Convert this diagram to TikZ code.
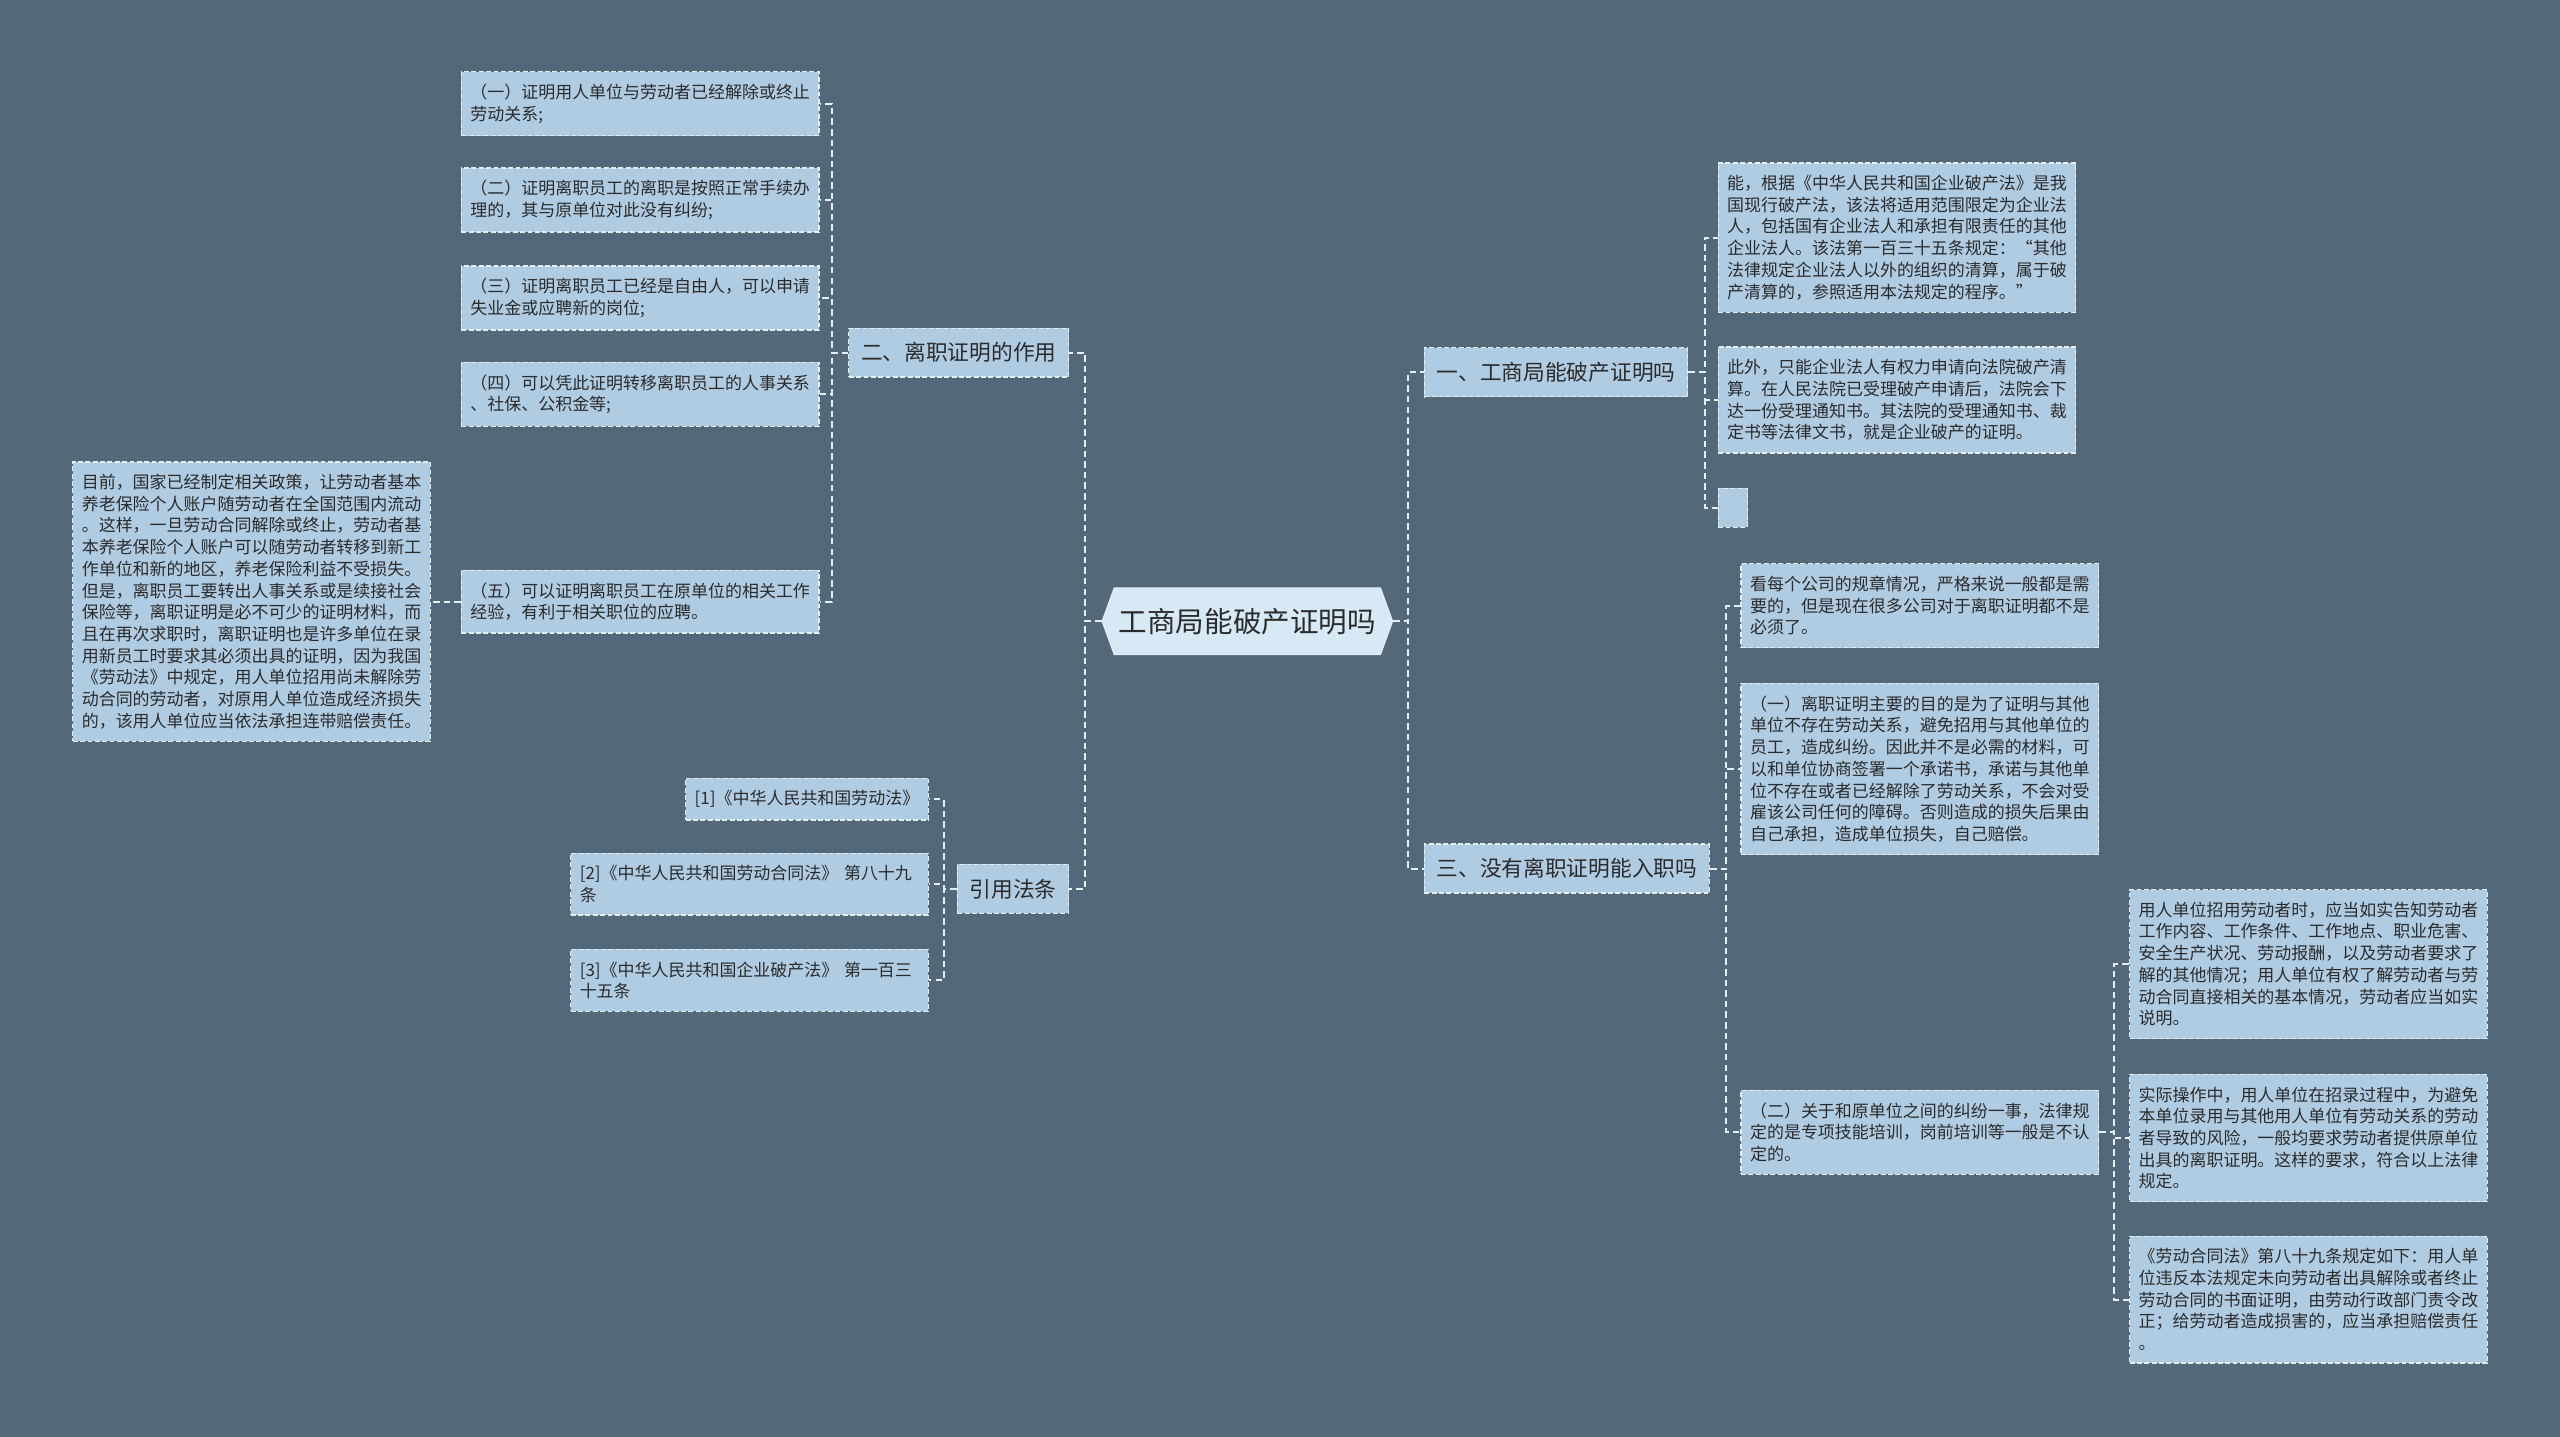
\documentclass[tikz,border=0pt]{standalone}
\usepackage{fontspec}
\newfontfamily\cjk{Noto Sans CJK SC}
\usetikzlibrary{shapes.symbols}
\definecolor{bgcol}{HTML}{536878}
\definecolor{boxfill}{HTML}{B0CCE2}
\definecolor{rootfill}{HTML}{D6E9F4}
\definecolor{inkcol}{HTML}{2B2B2B}
\definecolor{linecol}{HTML}{E4EEF6}

\begin{document}
\begin{tikzpicture}[
    x=1pt, y=-1pt,
    box/.style={rectangle, draw=linecol, fill=boxfill, dash pattern=on 3pt off 1.5pt, line width=0.8pt, text=inkcol},
    rootbox/.style={signal, signal to=west and east, signal pointer angle=140, fill=rootfill, draw=linecol, line width=0.6pt, minimum width=178pt, minimum height=41pt, inner sep=0pt, text=inkcol, font=\cjk\fontsize{17.5}{20}\selectfont},
    topic/.style={box, minimum height=30pt, inner xsep=7.5pt, inner ysep=3pt, font=\cjk\fontsize{13.3}{16}\selectfont},
    refleaf/.style={box, inner xsep=5.5pt, inner ysep=7.5pt, font=\cjk\fontsize{10.4}{13.3}\selectfont},
    leaf/.style={refleaf, text width=208pt, align=left},
    link/.style={draw=linecol, line width=1.2pt, dash pattern=on 4pt off 2.5pt}
]
\fill[bgcol] (0,0) rectangle (1568,880);
\useasboundingbox (0,0) rectangle (1568,880);

% Root
\node[rootbox] (root) at (764,380.5) {工商局能破产证明吗};

% Topic 1: right top
\node[topic, anchor=west] (one) at (872,228) {一、工商局能破产证明吗};
\node[leaf, anchor=west] (a1) at (1052,145.5) {能，根据《中华人民共和国企业破产法》是我\\国现行破产法，该法将适用范围限定为企业法\\人，包括国有企业法人和承担有限责任的其他\\企业法人。该法第一百三十五条规定：“其他\\法律规定企业法人以外的组织的清算，属于破\\产清算的，参照适用本法规定的程序。”};
\node[leaf, anchor=west] (a2) at (1052,245) {此外，只能企业法人有权力申请向法院破产清\\算。在人民法院已受理破产申请后，法院会下\\达一份受理通知书。其法院的受理通知书、裁\\定书等法律文书，就是企业破产的证明。};
\node[box, anchor=west, minimum width=18pt, minimum height=24pt, inner sep=0pt] (a3) at (1052,311) {};
\draw[link] (root.east) -- ++(9,0) |- (one.west);
\draw[link] (one.east) -- ++(10,0) |- (a1.west);
\draw[link] (one.east) -- ++(10,0) |- (a2.west);
\draw[link] (one.east) -- ++(10,0) |- (a3.west);

% Topic 3: right bottom
\node[topic, anchor=west] (three) at (872,532) {三、没有离职证明能入职吗};
\node[leaf, anchor=west] (b1) at (1066,371) {看每个公司的规章情况，严格来说一般都是需\\要的，但是现在很多公司对于离职证明都不是\\必须了。};
\node[leaf, anchor=west] (b2) at (1066,471) {（一）离职证明主要的目的是为了证明与其他\\单位不存在劳动关系，避免招用与其他单位的\\员工，造成纠纷。因此并不是必需的材料，可\\以和单位协商签署一个承诺书，承诺与其他单\\位不存在或者已经解除了劳动关系，不会对受\\雇该公司任何的障碍。否则造成的损失后果由\\自己承担，造成单位损失，自己赔偿。};
\node[leaf, anchor=west] (b3) at (1066,693.5) {（二）关于和原单位之间的纠纷一事，法律规\\定的是专项技能培训，岗前培训等一般是不认\\定的。};
\node[leaf, anchor=west] (c1) at (1304,590.5) {用人单位招用劳动者时，应当如实告知劳动者\\工作内容、工作条件、工作地点、职业危害、\\安全生产状况、劳动报酬，以及劳动者要求了\\解的其他情况；用人单位有权了解劳动者与劳\\动合同直接相关的基本情况，劳动者应当如实\\说明。};
\node[leaf, anchor=west] (c2) at (1304,697) {实际操作中，用人单位在招录过程中，为避免\\本单位录用与其他用人单位有劳动关系的劳动\\者导致的风险，一般均要求劳动者提供原单位\\出具的离职证明。这样的要求，符合以上法律\\规定。};
\node[leaf, anchor=west] (c3) at (1304,796) {《劳动合同法》第八十九条规定如下：用人单\\位违反本法规定未向劳动者出具解除或者终止\\劳动合同的书面证明，由劳动行政部门责令改\\正；给劳动者造成损害的，应当承担赔偿责任\\。};
\draw[link] (root.east) -- ++(9,0) |- (three.west);
\draw[link] (three.east) -- ++(10,0) |- (b1.west);
\draw[link] (three.east) -- ++(10,0) |- (b2.west);
\draw[link] (three.east) -- ++(10,0) |- (b3.west);
\draw[link] (b3.east) -- ++(9,0) |- (c1.west);
\draw[link] (b3.east) -- ++(9,0) |- (c2.west);
\draw[link] (b3.east) -- ++(9,0) |- (c3.west);

% Topic 2: left top
\node[topic, anchor=east] (two) at (655,216) {二、离职证明的作用};
\node[leaf, anchor=east] (l1) at (502,63.5) {（一）证明用人单位与劳动者已经解除或终止\\劳动关系;};
\node[leaf, anchor=east] (l2) at (502,122.5) {（二）证明离职员工的离职是按照正常手续办\\理的，其与原单位对此没有纠纷;};
\node[leaf, anchor=east] (l3) at (502,182.5) {（三）证明离职员工已经是自由人，可以申请\\失业金或应聘新的岗位;};
\node[leaf, anchor=east] (l4) at (502,241.5) {（四）可以凭此证明转移离职员工的人事关系\\、社保、公积金等;};
\node[leaf, anchor=east] (l5) at (502,368.5) {（五）可以证明离职员工在原单位的相关工作\\经验，有利于相关职位的应聘。};
\node[leaf, anchor=east] (ll) at (264,368.5) {目前，国家已经制定相关政策，让劳动者基本\\养老保险个人账户随劳动者在全国范围内流动\\。这样，一旦劳动合同解除或终止，劳动者基\\本养老保险个人账户可以随劳动者转移到新工\\作单位和新的地区，养老保险利益不受损失。\\但是，离职员工要转出人事关系或是续接社会\\保险等，离职证明是必不可少的证明材料，而\\且在再次求职时，离职证明也是许多单位在录\\用新员工时要求其必须出具的证明，因为我国\\《劳动法》中规定，用人单位招用尚未解除劳\\动合同的劳动者，对原用人单位造成经济损失\\的，该用人单位应当依法承担连带赔偿责任。};
\draw[link] (root.west) -- ++(-10,0) |- (two.east);
\draw[link] (two.west) -- ++(-10,0) |- (l1.east);
\draw[link] (two.west) -- ++(-10,0) |- (l2.east);
\draw[link] (two.west) -- ++(-10,0) |- (l3.east);
\draw[link] (two.west) -- ++(-10,0) |- (l4.east);
\draw[link] (two.west) -- ++(-10,0) |- (l5.east);
\draw[link] (l5.west) -- (ll.east);

% Topic 4: left bottom
\node[topic, anchor=east] (laws) at (655,544.5) {引用法条};
\node[refleaf, anchor=east] (r1) at (569,489.5) {[1]《中华人民共和国劳动法》};
\node[leaf, anchor=east] (r2) at (569,541.5) {[2]《中华人民共和国劳动合同法》~第八十九\\条};
\node[leaf, anchor=east] (r3) at (569,600.5) {[3]《中华人民共和国企业破产法》~第一百三\\十五条};
\draw[link] (root.west) -- ++(-10,0) |- (laws.east);
\draw[link] (laws.west) -- ++(-8,0) |- (r1.east);
\draw[link] (laws.west) -- ++(-8,0) |- (r2.east);
\draw[link] (laws.west) -- ++(-8,0) |- (r3.east);

\end{tikzpicture}
\end{document}
